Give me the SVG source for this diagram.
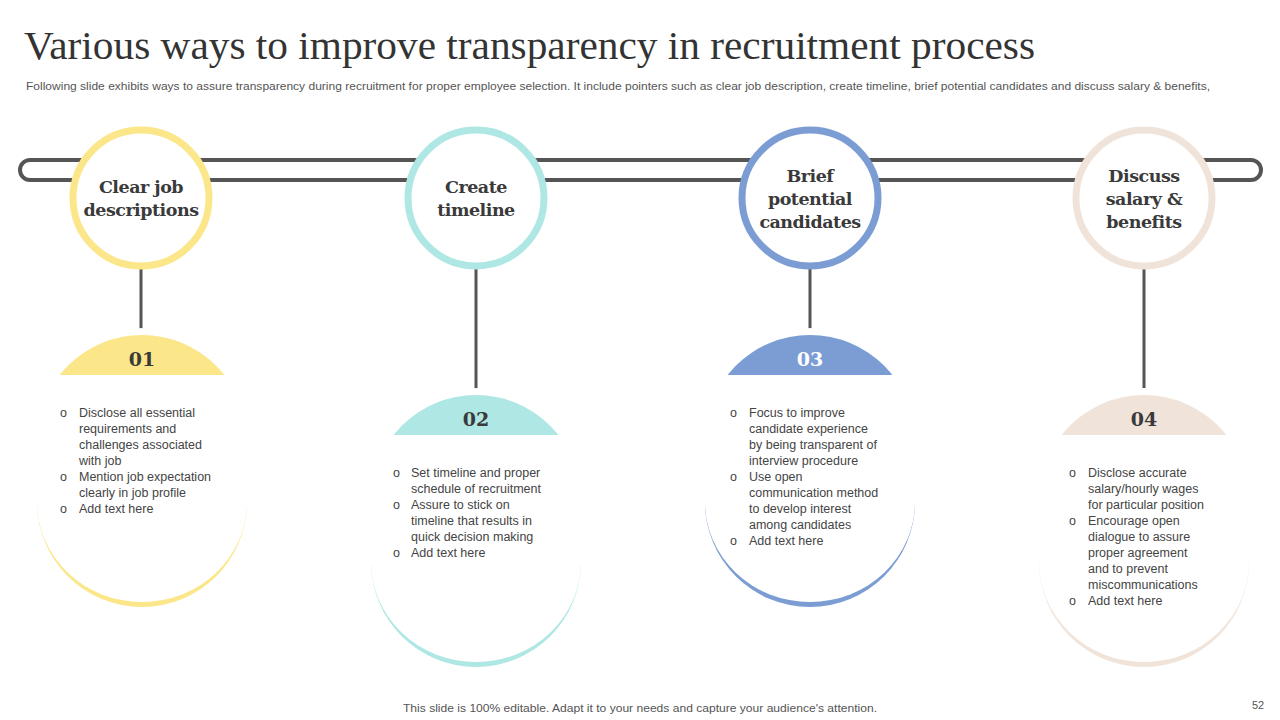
<svg xmlns="http://www.w3.org/2000/svg" width="1280" height="720" viewBox="0 0 1280 720">
<style>
.t{font-family:"Liberation Serif",serif;fill:#333}
.h{font-family:"DejaVu Serif","Liberation Serif",serif;font-weight:bold;font-size:17.5px;fill:#3a3a3a;text-anchor:middle;letter-spacing:-0.5px}
.n{font-family:"DejaVu Serif","Liberation Serif",serif;font-weight:bold;font-size:19px;fill:#3a3a3a;text-anchor:middle}
.b{font-family:"Liberation Sans",Arial,sans-serif;font-size:12.5px;fill:#444}
.s{font-family:"Liberation Sans",Arial,sans-serif;font-size:11px;fill:#555}
.ring{fill:#fff;stroke-width:7}
.ln{stroke:#555;stroke-width:3;fill:none}
</style>
<rect width="1280" height="720" fill="#fff"/>
<text class="t" x="24" y="59" font-size="39" textLength="1011" lengthAdjust="spacingAndGlyphs">Various ways to improve transparency in recruitment process</text>
<text class="s" x="26" y="90" textLength="1184" lengthAdjust="spacingAndGlyphs">Following slide exhibits ways to assure transparency during recruitment for proper employee selection. It include pointers such as clear job description, create timeline, brief potential candidates and discuss salary &amp; benefits,</text>
<g id="connectors">
<rect x="20" y="160" width="1241" height="20" rx="10" fill="none" stroke="#555" stroke-width="4"/>
<line class="ln" x1="141" y1="268" x2="141" y2="333"/>
<line class="ln" x1="476" y1="268" x2="476" y2="393"/>
<line class="ln" x1="810" y1="268" x2="810" y2="333"/>
<line class="ln" x1="1144" y1="268" x2="1144" y2="393"/>
<circle cx="141" cy="333" r="5" fill="#fff"/>
<circle cx="476" cy="393" r="5" fill="#fff"/>
<circle cx="810" cy="333" r="5" fill="#fff"/>
<circle cx="1144" cy="393" r="5" fill="#fff"/>
</g>
<g id="c1"><circle class="ring" cx="141" cy="198" r="68" stroke="#FCE68A"/>
<text class="h" x="141" y="193">Clear job</text><text class="h" x="141" y="216">descriptions</text></g>
<g id="c2"><circle class="ring" cx="476" cy="198" r="68" stroke="#AEE7E3"/>
<text class="h" x="476" y="193">Create</text><text class="h" x="476" y="216">timeline</text></g>
<g id="c3"><circle class="ring" cx="810" cy="198" r="68" stroke="#7B9DD4"/>
<text class="h" x="810" y="182">Brief</text><text class="h" x="810" y="205">potential</text><text class="h" x="810" y="228">candidates</text></g>
<g id="c4"><circle class="ring" cx="1144" cy="198" r="68" stroke="#F0E4DA"/>
<text class="h" x="1144" y="182">Discuss</text><text class="h" x="1144" y="205">salary &amp;</text><text class="h" x="1144" y="228">benefits</text></g>

<g id="card1"><rect x="37" y="335" width="210" height="272" rx="105" fill="#FCE68A"/>
<path d="M37,375H247V502A105,100 0 0 1 37,502Z" fill="#fff"/>
<text class="n" x="142" y="366">01</text>
<g class="b"><text x="60" y="417">o</text><text x="79" y="417">Disclose all essential</text><text x="79" y="433">requirements  and</text><text x="79" y="449">challenges  associated</text><text x="79" y="465">with job</text>
<text x="60" y="481">o</text><text x="79" y="481">Mention job expectation</text><text x="79" y="497">clearly in job profile</text>
<text x="60" y="513">o</text><text x="79" y="513">Add text here</text></g></g>

<g id="card2"><rect x="371" y="395" width="210" height="272" rx="105" fill="#AEE7E3"/>
<path d="M371,435H581V562A105,100 0 0 1 371,562Z" fill="#fff"/>
<text class="n" x="476" y="426">02</text>
<g class="b"><text x="393" y="477">o</text><text x="411" y="477">Set timeline  and  proper</text><text x="411" y="493">schedule  of recruitment</text>
<text x="393" y="509">o</text><text x="411" y="509">Assure to stick on</text><text x="411" y="525">timeline that results in</text><text x="411" y="541">quick decision making</text>
<text x="393" y="557">o</text><text x="411" y="557">Add text here</text></g></g>

<g id="card3"><rect x="705" y="335" width="210" height="272" rx="105" fill="#7B9DD4"/>
<path d="M705,375H915V502A105,100 0 0 1 705,502Z" fill="#fff"/>
<text class="n" x="810" y="366" style="fill:#fff">03</text>
<g class="b"><text x="730" y="417">o</text><text x="749" y="417">Focus to improve</text><text x="749" y="433">candidate experience</text><text x="749" y="449">by being transparent of</text><text x="749" y="465">interview procedure</text>
<text x="730" y="481">o</text><text x="749" y="481">Use open</text><text x="749" y="497">communication method</text><text x="749" y="513">to develop  interest</text><text x="749" y="529">among candidates</text>
<text x="730" y="545">o</text><text x="749" y="545">Add text here</text></g></g>

<g id="card4"><rect x="1039" y="395" width="210" height="272" rx="105" fill="#F0E4DA"/>
<path d="M1039,435H1249V562A105,100 0 0 1 1039,562Z" fill="#fff"/>
<text class="n" x="1144" y="426">04</text>
<g class="b"><text x="1069" y="477">o</text><text x="1088" y="477">Disclose accurate</text><text x="1088" y="493">salary/hourly wages</text><text x="1088" y="509">for particular position</text>
<text x="1069" y="525">o</text><text x="1088" y="525">Encourage  open</text><text x="1088" y="541">dialogue  to assure</text><text x="1088" y="557">proper agreement</text><text x="1088" y="573">and to prevent</text><text x="1088" y="589">miscommunications</text>
<text x="1069" y="605">o</text><text x="1088" y="605">Add text here</text></g></g>

<text class="s" x="403" y="712" textLength="474" lengthAdjust="spacingAndGlyphs">This slide is 100% editable. Adapt it to your needs and capture your audience's attention.</text>
<text class="s" x="1258" y="709" text-anchor="middle">52</text>
</svg>
